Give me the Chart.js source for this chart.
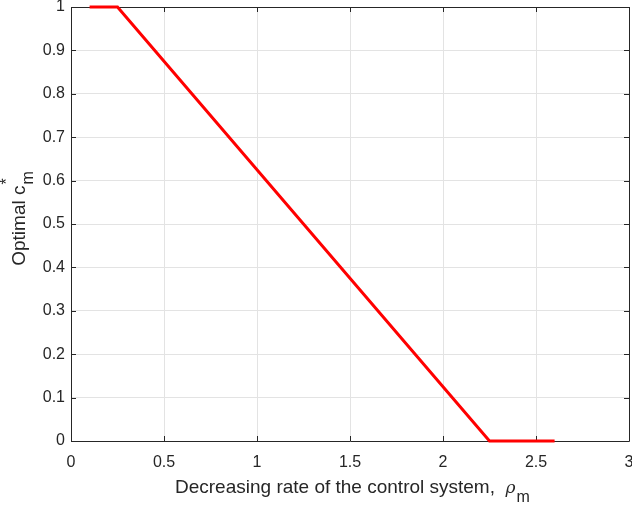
<!DOCTYPE html>
<html>
<head>
<meta charset="utf-8">
<script src="https://cdn.jsdelivr.net/npm/chart.js@4.4.1/dist/chart.umd.min.js"></script>
<style>
  body{margin:0;background:#fff;}
  #wrap{width:632px;height:506px;}
</style>
</head>
<body>
<div id="wrap"><canvas id="c" width="632" height="506"></canvas></div>
<script>
// data
var rho = [0.1, 0.25, 2.25, 2.6];
var cOpt = [1, 1, 0, 0];
var xTicks = [0, 0.5, 1, 1.5, 2, 2.5, 3];
var yTicks = [0, 0.1, 0.2, 0.3, 0.4, 0.5, 0.6, 0.7, 0.8, 0.9, 1];

var points = [];
for (var i = 0; i < rho.length; i++) points.push({x: rho[i], y: cOpt[i]});

var FONT = '"Liberation Sans", Arial, sans-serif';
var axisColor = '#262626';

function noPad(s){ s.paddingTop = 0; s.paddingBottom = 0; s.paddingLeft = 0; s.paddingRight = 0; }

// box, inward ticks and labels with sub/superscripts, MATLAB style
var matlabBox = {
    id: 'matlabBox',
    beforeDatasetsDraw: function(chart){
        var ctx = chart.ctx, a = chart.chartArea;
        var xs = chart.scales.x, ys = chart.scales.y;
        ctx.save();
        ctx.strokeStyle = axisColor;
        ctx.lineWidth = 1;
        ctx.beginPath();
        ctx.rect(Math.round(a.left)+0.5, Math.round(a.top)+0.5, Math.round(a.right-a.left), Math.round(a.bottom-a.top));
        for (var i = 0; i < xTicks.length; i++){
            var px = Math.round(xs.getPixelForValue(xTicks[i])) + 0.5;
            ctx.moveTo(px, a.bottom); ctx.lineTo(px, a.bottom-5);
            ctx.moveTo(px, a.top); ctx.lineTo(px, a.top+5);
        }
        for (var j = 0; j < yTicks.length; j++){
            var py = Math.round(ys.getPixelForValue(yTicks[j])) + 0.5;
            ctx.moveTo(a.left, py); ctx.lineTo(a.left+5, py);
            ctx.moveTo(a.right, py); ctx.lineTo(a.right-5, py);
        }
        ctx.stroke();
        ctx.restore();
    },
    afterDraw: function(chart){
        var ctx = chart.ctx, a = chart.chartArea;
        ctx.save();
        ctx.fillStyle = '#262626';
        // x title
        ctx.textBaseline = 'alphabetic';
        ctx.textAlign = 'left';
        ctx.font = '19px ' + FONT;
        var t1 = 'Decreasing rate of the control system,  ';
        var w1 = ctx.measureText(t1).width;
        ctx.font = 'italic 17px "DejaVu Serif", serif';
        var w2 = ctx.measureText('\u03C1').width;
        var x0 = 175, base = 493;
        ctx.font = '19px ' + FONT;
        ctx.fillText(t1, x0, base);
        ctx.font = 'italic 17px "DejaVu Serif", serif';
        ctx.fillText('\u03C1', x0 + w1, base);
        ctx.font = '16px ' + FONT;
        ctx.fillText('m', x0 + w1 + w2 + 1, base + 9);

        // y title, rotated
        ctx.save();
        ctx.translate(25, 219);
        ctx.rotate(-Math.PI/2);
        ctx.font = '19px ' + FONT;
        var s1 = 'Optimal c';
        var sw = ctx.measureText(s1).width;
        ctx.font = '16px ' + FONT;
        var sm = ctx.measureText('m').width;
        var y0x = -(sw + sm)/2;
        ctx.font = '19px ' + FONT;
        ctx.fillText(s1, y0x, 0);
        ctx.font = '16px ' + FONT;
        ctx.fillText('m', y0x + sw + 1, 8);
        ctx.fillText('*', y0x + sw + 1, -13);
        ctx.restore();
        ctx.restore();
    }
};

var myChart = new Chart(document.getElementById('c').getContext('2d'), {
    type: 'scatter',
    data: {
        datasets: [{
            data: points,
            showLine: true,
            borderColor: '#ff0000',
            borderWidth: 3,
            pointRadius: 0,
            fill: false,
            tension: 0,
            clip: false
        }]
    },
    options: {
        responsive: false,
        animation: false,
        events: [],
        layout: {padding: {left: 0, right: 3, top: 7, bottom: 0}},
        plugins: {legend: {display: false}, tooltip: {enabled: false}},
        scales: {
            x: {
                type: 'linear', min: 0, max: 3,
                afterFit: function(s){ s.height = 65; noPad(s); },
                afterBuildTicks: function(s){ s.ticks = xTicks.map(function(v){ return {value: v}; }); },
                grid: {color: '#e3e3e3', drawTicks: false},
                border: {display: false},
                ticks: {color: '#262626', font: {family: FONT, size: 16}, padding: 12, maxRotation: 0,
                        callback: function(v){ return String(v); }}
            },
            y: {
                type: 'linear', min: 0, max: 1,
                afterFit: function(s){ s.width = 71; noPad(s); },
                afterBuildTicks: function(s){ s.ticks = yTicks.map(function(v){ return {value: v}; }); },
                grid: {color: '#e3e3e3', drawTicks: false},
                border: {display: false},
                ticks: {color: '#262626', font: {family: FONT, size: 16}, padding: 6,
                        callback: function(v){ return String(v); }}
            }
        }
    },
    plugins: [matlabBox]
});
</script>
</body>
</html>
